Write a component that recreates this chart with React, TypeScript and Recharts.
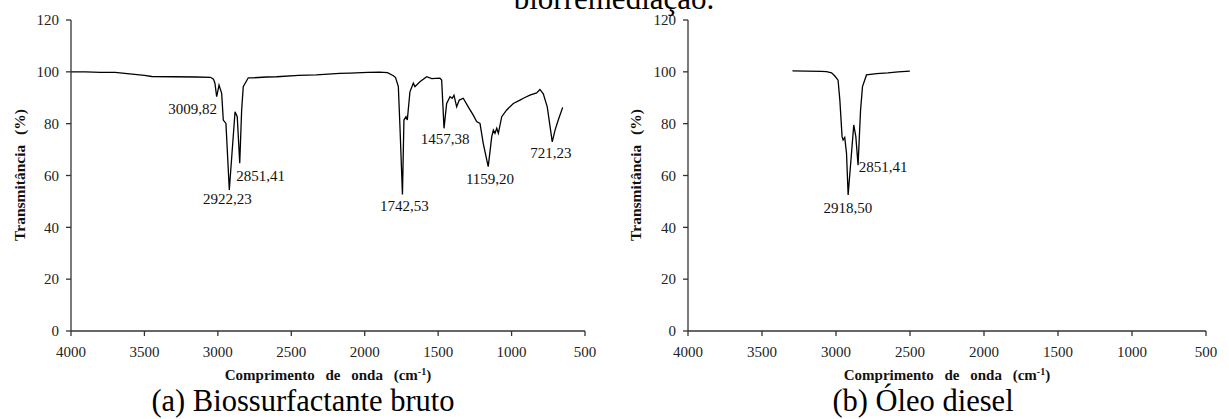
import React from 'react';
import { LineChart, Line, XAxis, YAxis, ReferenceDot } from 'recharts';

const serif = "'Liberation Serif', 'Times New Roman', serif";

// axis ticks
const wavenumberTicks = [4000, 3500, 3000, 2500, 2000, 1500, 1000, 500];
const transmittanceTicks = [0, 20, 40, 60, 80, 100, 120];

// (a) crude biosurfactant spectrum
const bioWavenumber = [
  4000, 3900, 3800, 3700, 3600, 3500, 3450, 3300, 3150, 3050, 3030, 3020, 3008, 2992, 2974, 2963, 2945,
  2922, 2883, 2868, 2851, 2838, 2827, 2793, 2760, 2667, 2600, 2450, 2330, 2170, 2100, 1980, 1900, 1845,
  1805, 1790, 1771, 1760, 1743, 1733, 1719, 1710, 1692, 1669, 1658, 1624, 1578, 1544, 1488, 1476, 1460,
  1442, 1419, 1404, 1392, 1374, 1356, 1329, 1295, 1261, 1238, 1215, 1193, 1159, 1135, 1124, 1113, 1101,
  1090, 1067, 1033, 988, 943, 920, 875, 829, 807, 784, 757, 723, 704, 682, 652,
];
const bioTransmittance = [
  100, 100, 99.8, 99.8, 99.2, 98.6, 98.2, 98.1, 98.0, 97.9, 97.2, 95.6, 90.4, 94.9, 91.7, 81.4, 80.1,
  54.4, 84.6, 82.7, 64.7, 85.3, 94.3, 97.7, 97.7, 98.0, 98.1, 98.6, 98.8, 99.4, 99.5, 99.8, 99.9, 99.7,
  98.5, 97.8, 94.3, 78.8, 52.7, 81.4, 82.7, 81.4, 92.3, 95.6, 94.3, 96.2, 98.1, 97.4, 97.6, 96.8, 78.2,
  87.8, 90.4, 89.8, 91.0, 86.5, 89.1, 89.8, 86.5, 83.3, 80.8, 80.1, 72.4, 63.4, 75.0, 77.5, 76.3, 78.2,
  76.3, 82.7, 85.3, 87.8, 89.1, 89.8, 91.0, 91.9, 93.2, 91.5, 86.5, 73.0, 77.5, 81.4, 86.3,
];
const bioPeakText = ['3009,82', '2922,23', '2851,41', '1742,53', '1457,38', '1159,20', '721,23'];
const bioPeakX = [3171, 2936, 2708, 1730, 1453, 1147, 733];
const bioPeakY = [85.9, 50.9, 59.9, 48.3, 74.1, 58.9, 68.9];

// (b) diesel oil spectrum
const dieselWavenumber = [
  3294, 3200, 3100, 3064, 3030, 3008, 2986, 2974, 2959, 2952, 2941, 2929, 2918, 2880, 2866, 2851, 2834,
  2821, 2794, 2726, 2650, 2580, 2501,
];
const dieselTransmittance = [
  100.4, 100.3, 100.2, 100.1, 99.6, 98.4, 96.8, 89.1, 75.0, 73.7, 74.7, 68.6, 52.5, 79.5, 75.0, 64.0, 85.3,
  94.3, 98.8, 99.3, 99.6, 100.0, 100.3,
];
const dieselPeakText = ['2918,50', '2851,41'];
const dieselPeakX = [2920, 2682];
const dieselPeakY = [47.6, 63.4];

const toRows = (xs: number[], ys: number[]) => xs.map((wn, i) => ({ wn, t: ys[i] }));

const PeakLabel = (props: any) => {
  const { viewBox, text } = props;
  if (!viewBox) return null;
  const cx = viewBox.x + viewBox.width / 2;
  const cy = viewBox.y + viewBox.height / 2;
  return (
    <text x={cx} y={cy} dy="0.35em" textAnchor="middle" fontFamily={serif} fontSize={15} fill="#111">
      {text}
    </text>
  );
};

const tickStyle = { fontFamily: serif, fontSize: 15, fill: '#222' };
const axisColor = '#333';

function Spectrum({ rows, peaks, left, width, yWidth, marginRight }: any) {
  return (
    <div style={{ position: 'absolute', top: 0, left, width, height: 419 }}>
      <LineChart width={width} height={419} data={rows} margin={{ top: 20, right: marginRight, bottom: 58, left: 0 }}>
        <XAxis
          dataKey="wn"
          type="number"
          domain={[500, 4000]}
          reversed
          ticks={wavenumberTicks}
          interval={0}
          height={30}
          tickSize={5}
          tickMargin={10}
          tick={tickStyle}
          axisLine={{ stroke: axisColor, strokeWidth: 1.3 }}
          tickLine={{ stroke: axisColor, strokeWidth: 1.3 }}
        />
        <YAxis
          type="number"
          domain={[0, 120]}
          ticks={transmittanceTicks}
          interval={0}
          width={yWidth}
          tickSize={5}
          tickMargin={7}
          tick={tickStyle}
          axisLine={{ stroke: axisColor, strokeWidth: 1.3 }}
          tickLine={{ stroke: axisColor, strokeWidth: 1.3 }}
        />
        <Line
          type="linear"
          dataKey="t"
          stroke="#000"
          strokeWidth={1.3}
          dot={false}
          isAnimationActive={false}
        />
        {peaks.map((p: any) => (
          <ReferenceDot
            key={p.text}
            x={p.x}
            y={p.y}
            r={1}
            fill="none"
            stroke="none"
            label={<PeakLabel text={p.text} />}
          />
        ))}
      </LineChart>
    </div>
  );
}

const AxisTitles = ({ plotCenter, yTitleX }: { plotCenter: number; yTitleX: number }) => (
  <>
    <text
      x={plotCenter}
      y={380}
      textAnchor="middle"
      fontFamily={serif}
      fontSize={15}
      fontWeight="bold"
      wordSpacing={7}
      fill="#111"
    >
      Comprimento de onda (cm
      <tspan fontSize={10} dy={-5}>-1</tspan>
      <tspan dy={5}>)</tspan>
    </text>
    <text
      transform={`translate(${yTitleX},175) rotate(-90)`}
      textAnchor="middle"
      dy="0.35em"
      fontFamily={serif}
      fontSize={15.5}
      fontWeight="bold"
      wordSpacing={6}
      fill="#111"
    >
      Transmitância (%)
    </text>
  </>
);

export default function App() {
  const bioRows = toRows(bioWavenumber, bioTransmittance);
  const dieselRows = toRows(dieselWavenumber, dieselTransmittance);
  const bioPeaks = bioPeakText.map((text, i) => ({ text, x: bioPeakX[i], y: bioPeakY[i] }));
  const dieselPeaks = dieselPeakText.map((text, i) => ({ text, x: dieselPeakX[i], y: dieselPeakY[i] }));

  return (
    <div style={{ position: 'absolute', top: 0, left: 0, width: 1229, height: 419, background: '#fff', overflow: 'hidden' }}>
      <Spectrum rows={bioRows} peaks={bioPeaks} left={0} width={620} yWidth={71} marginRight={35} />
      <Spectrum rows={dieselRows} peaks={dieselPeaks} left={620} width={609} yWidth={68} marginRight={23} />
      <svg
        width={1229}
        height={419}
        style={{ position: 'absolute', top: 0, left: 0, pointerEvents: 'none' }}
      >
        <text x={614} y={9} textAnchor="middle" fontFamily={serif} fontSize={31} fill="#000">
          biorremediação.
        </text>
        <AxisTitles plotCenter={328} yTitleX={20} />
        <AxisTitles plotCenter={947} yTitleX={636} />
        <text x={303} y={411} textAnchor="middle" fontFamily={serif} fontSize={30.5} fill="#000">
          (a) Biossurfactante bruto
        </text>
        <text x={923} y={411} textAnchor="middle" fontFamily={serif} fontSize={30.5} fill="#000">
          (b) Óleo diesel
        </text>
      </svg>
    </div>
  );
}
